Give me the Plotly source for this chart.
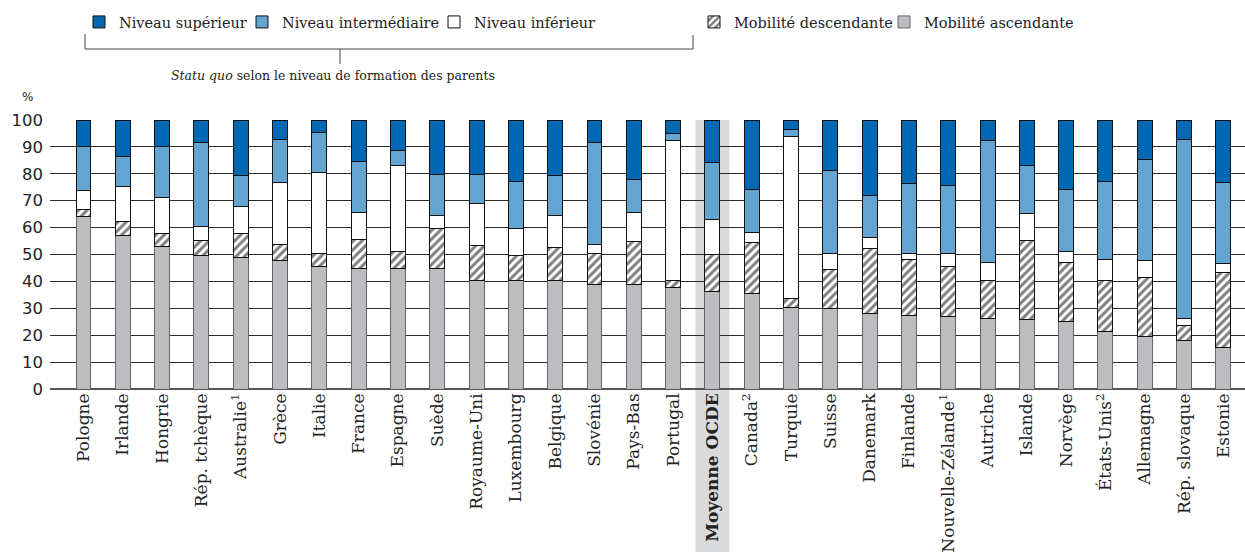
import plotly.graph_objects as go

# Countries in display order (OECD average highlighted)
countries = [
    "Pologne", "Irlande", "Hongrie", "Rép. tchèque", "Australie<sup>1</sup>", "Grèce",
    "Italie", "France", "Espagne", "Suède", "Royaume-Uni", "Luxembourg", "Belgique",
    "Slovénie", "Pays-Bas", "Portugal", "<b>Moyenne OCDE</b>", "Canada<sup>2</sup>",
    "Turquie", "Suisse", "Danemark", "Finlande", "Nouvelle-Zélande<sup>1</sup>",
    "Autriche", "Islande", "Norvège", "États-Unis<sup>2</sup>", "Allemagne",
    "Rép. slovaque", "Estonie",
]

# Shares (%) of each category, stacked from bottom to top
mobilite_ascendante = [64.0, 57.2, 52.9, 49.5, 48.9, 47.8, 45.7, 44.9, 44.9, 44.9,
                       40.3, 40.3, 40.3, 38.7, 38.7, 37.6, 36.4, 35.4, 30.3, 30.1,
                       27.9, 27.4, 26.8, 26.2, 25.7, 25.1, 21.2, 19.5, 17.9, 15.6]
mobilite_descendante = [2.9, 5.2, 4.9, 5.6, 8.9, 6.0, 4.8, 10.6, 6.1, 14.7,
                        13.0, 9.2, 12.4, 11.8, 16.3, 2.7, 13.5, 19.1, 3.3, 14.2,
                        24.3, 20.9, 18.7, 14.1, 29.4, 21.9, 19.1, 21.9, 5.7, 27.7]
niveau_inferieur = [6.8, 12.9, 13.5, 5.4, 10.2, 23.1, 29.9, 10.3, 32.1, 4.9,
                    15.7, 10.1, 11.8, 3.3, 10.6, 51.9, 13.0, 3.8, 60.2, 6.1,
                    4.0, 2.2, 5.0, 6.8, 10.0, 4.1, 8.0, 6.4, 2.7, 3.3]
niveau_intermediaire = [16.3, 11.2, 18.7, 31.1, 11.2, 15.8, 15.1, 18.9, 5.6, 15.3,
                        10.8, 17.4, 14.7, 37.8, 12.4, 2.8, 21.3, 15.9, 2.6, 31.0,
                        15.6, 25.8, 25.3, 45.1, 18.0, 23.1, 28.7, 37.6, 66.4, 30.3]
niveau_superieur = [10.0, 13.5, 10.0, 8.4, 20.8, 7.3, 4.5, 15.3, 11.3, 20.2,
                    20.2, 23.0, 20.8, 8.4, 22.0, 5.0, 15.8, 25.8, 3.6, 18.6,
                    28.2, 23.7, 24.2, 7.8, 16.9, 25.8, 23.0, 14.6, 7.3, 23.1]

y_ticks = list(range(0, 101, 10))

W, H = 1245, 552
L, R, T, B = 50, 0, 120, 163
PW, PH = W - L - R, H - T - B

SERIF = "DejaVu Serif"
SANS = "DejaVu Sans"
INK = "#222222"

def px_x(p):
    return (p - L) / PW

def px_y(p):
    return (H - B - p) / PH

x_idx = list(range(len(countries)))
bar_w = 0.38

series = [
    ("Mobilité ascendante", mobilite_ascendante, dict(color="#bcbdc0", line=dict(color="#666666", width=1)), "legend5"),
    ("Mobilité descendante", mobilite_descendante,
     dict(color="white", line=dict(color="#111111", width=1),
          pattern=dict(shape="/", fgcolor="#000000", bgcolor="white", size=6, solidity=0.5)), "legend4"),
    ("Niveau inférieur", niveau_inferieur, dict(color="white", line=dict(color="#111111", width=1)), "legend3"),
    ("Niveau intermédiaire", niveau_intermediaire, dict(color="#64a4d0", line=dict(color="#111111", width=1)), "legend2"),
    ("Niveau supérieur", niveau_superieur, dict(color="#0068b3", line=dict(color="#111111", width=1)), "legend"),
]

fig = go.Figure()
for name, vals, marker, lg in series:
    fig.add_trace(go.Bar(
        x=x_idx, y=vals, name=name, marker=marker, width=bar_w,
        legend=lg, hovertemplate="%{y:.1f}%<extra>" + name + "</extra>",
    ))

# Legend entries placed individually along the top row
legend_pos = {
    "legend": 95, "legend2": 258, "legend3": 450, "legend4": 710, "legend5": 900,
}
legend_layout = {}
for key, sq_left in legend_pos.items():
    legend_layout[key] = dict(
        x=(sq_left - 16) / W, xref="container", xanchor="left",
        y=1 - 22 / H, yref="container", yanchor="middle",
        orientation="h", bgcolor="rgba(0,0,0,0)", borderwidth=0,
        font=dict(family=SERIF, size=14.5, color=INK),
        itemclick=False, itemdoubleclick=False,
    )

shapes = []
# Highlight band behind the OECD average
oecd = countries.index("<b>Moyenne OCDE</b>")
shapes.append(dict(type="rect", xref="x", yref="paper", layer="below",
                   x0=oecd - 0.433, x1=oecd + 0.433, y0=px_y(H), y1=1,
                   fillcolor="#d9dadc", line=dict(width=0)))

# Bracket grouping the three "statu quo" categories
br = dict(color="#444444", width=1)
shapes += [
    dict(type="line", xref="paper", yref="paper", x0=px_x(85), x1=px_x(85), y0=px_y(34), y1=px_y(49), line=br),
    dict(type="line", xref="paper", yref="paper", x0=px_x(85), x1=px_x(693), y0=px_y(49), y1=px_y(49), line=br),
    dict(type="line", xref="paper", yref="paper", x0=px_x(693), x1=px_x(693), y0=px_y(35), y1=px_y(49), line=br),
    dict(type="line", xref="paper", yref="paper", x0=px_x(340), x1=px_x(340), y0=px_y(49), y1=px_y(64), line=br),
]

annotations = [
    dict(text="<i>Statu quo</i> selon le niveau de formation des parents",
         xref="paper", yref="paper", x=px_x(333), y=px_y(76), showarrow=False,
         xanchor="center", yanchor="middle", font=dict(family=SERIF, size=12.5, color=INK)),
    dict(text="%", xref="paper", yref="paper", x=px_x(27), y=px_y(97), showarrow=False,
         xanchor="center", yanchor="middle", font=dict(family=SANS, size=12, color=INK)),
]

fig.update_layout(
    width=W, height=H,
    margin=dict(l=L, r=R, t=T, b=B, pad=0),
    barmode="stack",
    plot_bgcolor="white", paper_bgcolor="white",
    font=dict(family=SERIF, color=INK),
    showlegend=True,
    shapes=shapes, annotations=annotations,
    **legend_layout,
)

fig.update_xaxes(
    range=[-0.852, len(countries) - 1 + 0.55],
    tickmode="array", tickvals=x_idx, ticktext=countries,
    tickangle=-90, ticks="", showgrid=False, zeroline=False, showline=False,
    tickfont=dict(family=SERIF, size=17, color=INK),
)
fig.update_yaxes(
    range=[0, 100], tickmode="array", tickvals=y_ticks,
    ticks="", ticklabelstandoff=6,
    showgrid=True, gridcolor="#2a2a2a", gridwidth=1,
    zeroline=True, zerolinecolor="#555555", zerolinewidth=2,
    showline=False,
    tickfont=dict(family=SANS, size=16.5, color=INK),
)

fig.write_html("out.html")
